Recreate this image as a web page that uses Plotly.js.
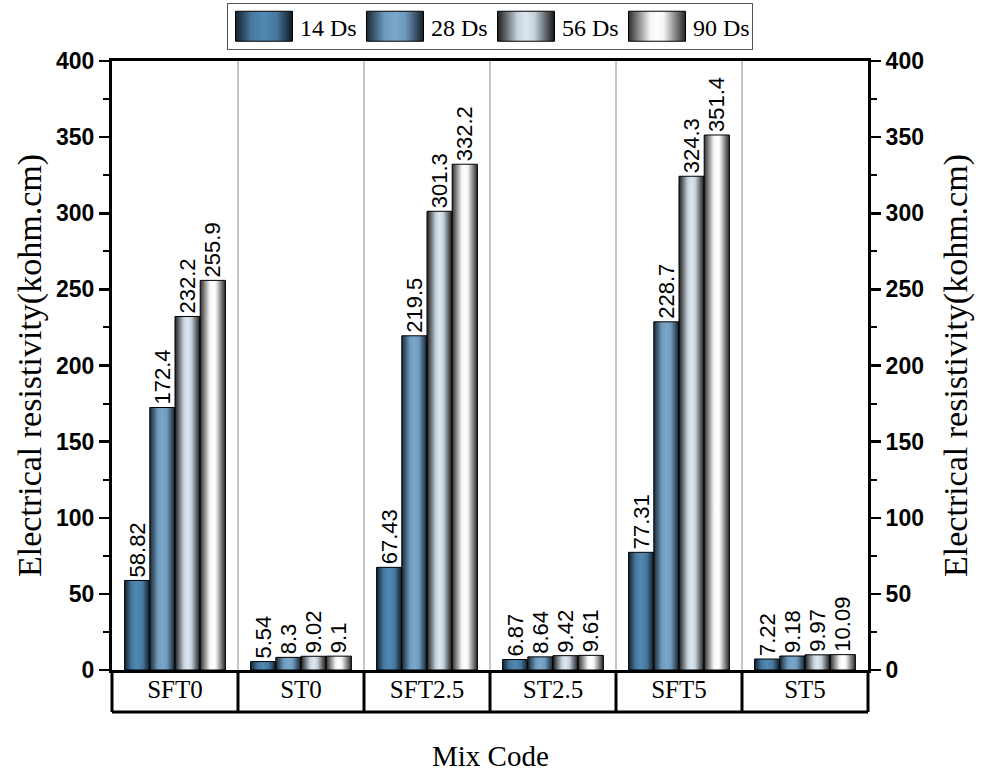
<!DOCTYPE html>
<html><head><meta charset="utf-8">
<script src="https://cdn.plot.ly/plotly-3.0.1.min.js"></script>
<style>html,body{margin:0;padding:0;background:#fff}</style>
</head><body>
<div id="chart" style="width:989px;height:773px"></div>
<script>
// ---- data ----
const categories = ['SFT0', 'ST0', 'SFT2.5', 'ST2.5', 'SFT5', 'ST5'];
const seriesNames = ['14 Ds', '28 Ds', '56 Ds', '90 Ds'];
const d14 = [58.82, 5.54, 67.43, 6.87, 77.31, 7.22];
const d28 = [172.4, 8.3, 219.5, 8.64, 228.7, 9.18];
const d56 = [232.2, 9.02, 301.3, 9.42, 324.3, 9.97];
const d90 = [255.9, 9.1, 332.2, 9.61, 351.4, 10.09];
const seriesValues = [d14, d28, d56, d90];

// ---- styles ----
const baseColors = ['#4f86b0', '#78a5c7', '#d8e3ed', '#ffffff'];
const gradients = [
  [[0, '#14212c'], [0.28, '#4679a1'], [0.5, '#5189b3'], [0.72, '#4679a1'], [1, '#0f1820']],
  [[0, '#1a2835'], [0.32, '#6d9abd'], [0.5, '#7ba8c9'], [0.68, '#6d9abd'], [1, '#141e28']],
  [[0, '#1c1c1c'], [0.35, '#c5d1dc'], [0.5, '#dce7f0'], [0.65, '#c5d1dc'], [1, '#141414']],
  [[0, '#2e2e2e'], [0.38, '#f4f4f4'], [0.5, '#ffffff'], [0.62, '#f4f4f4'], [1, '#262626']]
];
const serif = 'Liberation Serif, Times New Roman, serif';
const sans = 'Liberation Sans, Arial, sans-serif';
const boxDepth = 0.069;

const traces = seriesValues.map((vals, i) => ({
  type: 'bar',
  name: seriesNames[i],
  x: categories,
  y: vals,
  text: vals.map(v => String(v)),
  textposition: 'outside',
  textangle: -90,
  constraintext: 'none',
  cliponaxis: false,
  textfont: {family: sans, size: 22, color: '#000'},
  marker: {color: baseColors[i], line: {color: '#000', width: 1}},
  hoverinfo: 'skip'
}));
// invisible companion trace so the right axis is drawn
traces.push({
  type: 'scatter', mode: 'markers', x: categories, y: d90, yaxis: 'y2',
  marker: {opacity: 0}, showlegend: false, hoverinfo: 'skip'
});

const n = categories.length;
const shapes = [];
for (let i = 1; i < n; i++) {
  shapes.push({type: 'line', xref: 'x domain', yref: 'paper', x0: i / n, x1: i / n, y0: 0, y1: 1,
    line: {color: '#8c8c8c', width: 1}, layer: 'below'});
}
for (let i = 0; i <= n; i++) {
  shapes.push({type: 'line', xref: 'x domain', yref: 'paper', x0: i / n, x1: i / n, y0: 0, y1: -boxDepth,
    line: {color: '#000', width: 3}});
}
shapes.push({type: 'line', xref: 'x domain', yref: 'paper', x0: 0, x1: 1, y0: -boxDepth, y1: -boxDepth,
  line: {color: '#000', width: 3}});

const yTitleText = 'Electrical resistivity(kohm.cm)';
const yCommon = {
  range: [0, 400], dtick: 50, tick0: 0,
  showgrid: false, zeroline: false,
  showline: true, linecolor: '#000', linewidth: 3,
  ticks: 'outside', ticklen: 10, tickwidth: 2.5, tickcolor: '#000',
  minor: {dtick: 25, ticks: 'outside', ticklen: 6, tickwidth: 2, tickcolor: '#000'},
  tickfont: {family: sans, size: 23, color: '#000', weight: 'bold'},
  title: {text: yTitleText, font: {family: serif, size: 34, color: '#000'}, standoff: 5}
};

const layout = {
  width: 989, height: 773,
  margin: {l: 112, r: 121, t: 61, b: 103, autoexpand: false},
  paper_bgcolor: '#fff', plot_bgcolor: '#fff',
  barmode: 'group', bargap: 0.2, bargroupgap: 0,
  showlegend: true,
  legend: {
    orientation: 'h', x: 0.5, xanchor: 'center', y: 1.095, yanchor: 'top',
    font: {family: serif, size: 24, color: '#000'},
    bordercolor: '#555', borderwidth: 1, bgcolor: '#fff',
    itemwidth: 62, traceorder: 'normal', entrywidth: 54
  },
  xaxis: {
    type: 'category', range: [-0.5, n - 0.5],
    showline: true, mirror: true, linecolor: '#000', linewidth: 3,
    ticks: '', showgrid: false, ticklabelstandoff: -5,
    tickfont: {family: serif, size: 25, color: '#000'}
  },
  yaxis: Object.assign({}, yCommon),
  yaxis2: Object.assign({}, yCommon, {overlaying: 'y', side: 'right',
    title: {text: yTitleText, font: {family: serif, size: 34, color: '#000'}, standoff: 21}}),
  annotations: [{
    text: 'Mix Code', xref: 'paper', yref: 'paper', x: 0.5, xanchor: 'center',
    y: -0.111, yanchor: 'top', showarrow: false,
    font: {family: serif, size: 29, color: '#000'}
  }],
  shapes: shapes
};

function applyGradients(gd) {
  const ns = 'http://www.w3.org/2000/svg';
  const svg = gd.querySelector('svg.main-svg');
  let defs = svg.querySelector('defs');
  if (!defs) { defs = document.createElementNS(ns, 'defs'); svg.insertBefore(defs, svg.firstChild); }
  gradients.forEach((stops, i) => {
    if (document.getElementById('bargrad' + i)) return;
    const g = document.createElementNS(ns, 'linearGradient');
    g.setAttribute('id', 'bargrad' + i);
    g.setAttribute('x1', '0'); g.setAttribute('x2', '1');
    g.setAttribute('y1', '0'); g.setAttribute('y2', '0');
    stops.forEach(([o, c]) => {
      const s = document.createElementNS(ns, 'stop');
      s.setAttribute('offset', o); s.setAttribute('stop-color', c);
      g.appendChild(s);
    });
    defs.appendChild(g);
  });
  gd.querySelectorAll('.barlayer .trace').forEach((t, i) => {
    t.querySelectorAll('path').forEach(p => { p.style.fill = 'url(#bargrad' + i + ')'; });
  });
  gd.querySelectorAll('.legend .traces').forEach((t, i) => {
    t.querySelectorAll('.legendpoints path').forEach(p => {
      p.setAttribute('d', 'M28.5,15H-28.5V-15H28.5Z');
      p.style.fill = 'url(#bargrad' + i + ')';
      p.style.stroke = '#000';
      p.style.strokeWidth = '1px';
    });
  });
}

Plotly.newPlot('chart', traces, layout, {displayModeBar: false, staticPlot: true})
  .then(gd => applyGradients(gd));
</script>
</body></html>
